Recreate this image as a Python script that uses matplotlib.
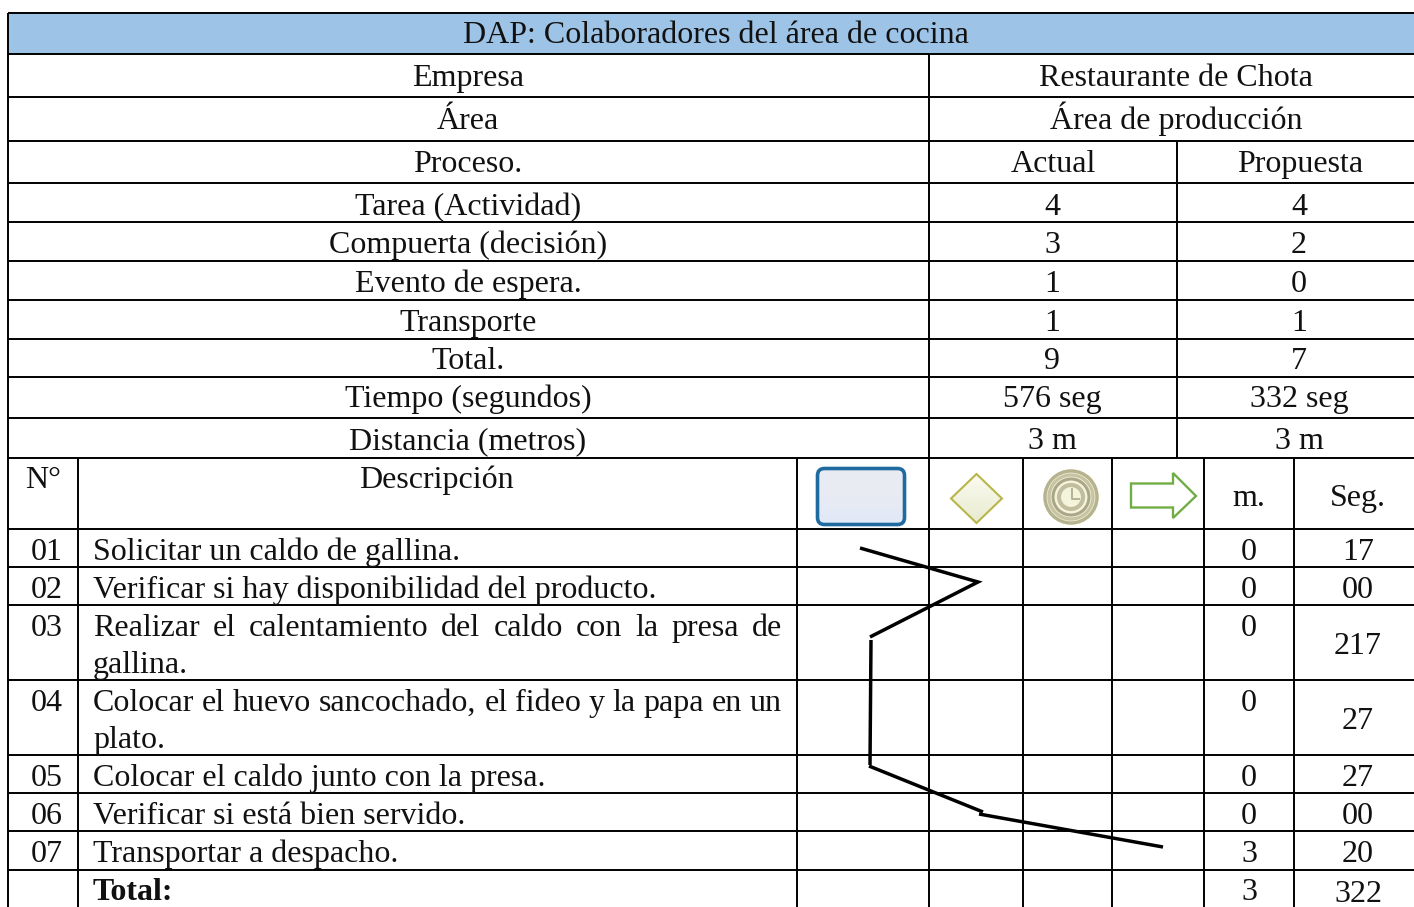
#!/usr/bin/env python3
"""DAP table, drawn in pixel coordinates of the 1414x907 picture."""

import numpy as np
import matplotlib
matplotlib.use("Agg")
import matplotlib.pyplot as plt
from matplotlib.colors import LinearSegmentedColormap
from matplotlib.patches import Circle, FancyBboxPatch, Polygon, Rectangle

plt.rcParams["font.family"] = ["Liberation Serif", "DejaVu Serif"]

# ---------- data ----------
title = "DAP: Colaboradores del área de cocina"
head_labels = ["Empresa", "Área", "Proceso."]
summary_labels = ["Tarea (Actividad)", "Compuerta (decisión)", "Evento de espera.", "Transporte",
                  "Total.", "Tiempo (segundos)", "Distancia (metros)"]
actual = ["4", "3", "1", "1", "9", "576 seg", "3 m"]
propuesta = ["4", "2", "0", "1", "7", "332 seg", "3 m"]

numbers = ["01", "02", "03", "04", "05", "06", "07"]
descriptions = [
    ["Solicitar un caldo de gallina."],
    ["Verificar si hay disponibilidad del producto."],
    ["Realizar el calentamiento del caldo con la presa de", "gallina."],
    ["Colocar el huevo sancochado, el fideo y la papa en un", "plato."],
    ["Colocar el caldo junto con la presa."],
    ["Verificar si está bien servido."],
    ["Transportar a despacho."],
]
minutes = ["0", "0", "0", "0", "0", "0", "3"]
seconds = ["17", "00", "217", "27", "27", "00", "20"]
total_min = "3"
total_sec = "322"

# hand drawn flow line, one list per stroke
flow_x = [[860, 978, 870], [871, 870], [869, 983], [979, 1163]]
flow_y = [[548, 582, 637], [640, 765], [766, 812], [814, 847]]

# ---------- grid ----------
X0, X_R = 8, 1416
H_LINES = [13, 54, 97, 141, 183, 222, 261, 300, 339, 377, 418, 458, 529, 567, 605, 680, 755, 793, 831, 870]
SUMMARY_BASE = [214, 252, 291, 330, 368, 406, 448]
ROW_BASE = [559, 597, 635, 710, 785, 823, 861]
FS = 23.0
LW = 1.4
TEXT_DY = 0.8

fig = plt.figure(figsize=(14.14, 9.07), dpi=100)
ax = fig.add_axes([0, 0, 1, 1])
ax.set_xlim(0, 1414)
ax.set_ylim(907, 0)
ax.axis("off")


def put(x, y, s, ha="center", **kw):
    return ax.text(x, y + TEXT_DY, s, ha=ha, va="baseline", fontsize=FS, color="#111111", **kw)


def hline(y, x1=X0, x2=X_R):
    ax.plot([x1, x2], [y, y], color="black", lw=LW, solid_capstyle="butt", zorder=3)


def vline(x, y1, y2):
    ax.plot([x, x], [y1, y2], color="black", lw=LW, solid_capstyle="butt", zorder=3)


def justified(x1, x2, y, line):
    # word by word so the line fills the cell, as in the document
    words = line.split()
    renderer = fig.canvas.get_renderer()
    items = [put(x1, y, w, ha="left") for w in words]
    widths = [t.get_window_extent(renderer).width for t in items]
    gap = (x2 - x1 - sum(widths)) / (len(words) - 1)
    pos = x1
    for t, w in zip(items, widths):
        t.set_x(pos)
        pos += w + gap


ax.add_patch(Rectangle((X0, 13), X_R - X0, 41, color="#9dc3e6", lw=0, zorder=0))
for y in H_LINES:
    hline(y)
vline(X0, 13, 907)
vline(929, 54, 458)
vline(1177, 141, 458)
for x in [78, 797, 929, 1023, 1112, 1204, 1294]:
    vline(x, 458, 907)

# ---------- upper block ----------
put(716, 42, title)
for base, s in zip([85, 128, 171], head_labels):
    put(468, base, s)
put(1176, 85, "Restaurante de Chota")
put(1176, 128, "Área de producción")
put(1053, 171, "Actual")
put(1300, 171, "Propuesta")
for base, s, a, p in zip(SUMMARY_BASE, summary_labels, actual, propuesta):
    put(468, base, s)
    put(1052, base, a)
    put(1299, base, p)

# ---------- lower block header ----------
put(43, 487, "N°")
put(436, 487, "Descripción")
put(1249, 505, "m.")
put(1358, 505, "Seg.")

# task symbol
grad = np.linspace(0, 1, 64)[:, None]
task = FancyBboxPatch((817.5, 468.5), 87, 56, boxstyle="round,pad=0,rounding_size=7",
                      fc="none", ec="#1f6a9f", lw=2.6, zorder=4)
ax.add_patch(task)
img = ax.imshow(grad, extent=(817, 906, 526, 467), aspect="auto", zorder=2,
                cmap=LinearSegmentedColormap.from_list("task", ["#e9ebf3", "#e9ebf3", "#dfe9f8"]))
img.set_clip_path(task)

# gateway symbol
gate = Polygon([(951, 498.5), (976.5, 474), (1002, 498.5), (976.5, 523)], closed=True,
               fc="none", ec="#b8b64a", lw=1.5, zorder=4)
ax.add_patch(gate)
img = ax.imshow(grad, extent=(951, 1002, 523, 474), aspect="auto", zorder=2,
                cmap=LinearSegmentedColormap.from_list("gate", ["#fbfbf0", "#e8ebd0"]))
img.set_clip_path(gate)

# timer event symbol
ax.add_patch(Circle((1071, 497), 28, fc="#f4f4dc", ec="none", zorder=2))
for r, c, w in [(26, "#b5b28f", 2.4), (22, "#c6c4a2", 2.4), (18, "#a9a787", 2.2), (12, "#c0be9e", 3.0)]:
    ax.add_patch(Circle((1071, 497), r, fc="none", ec=c, lw=w, zorder=4))
ax.plot([1072, 1072, 1079], [489, 499, 499], color="#b5b394", lw=1.4, zorder=4)

# transport arrow
ax.add_patch(Polygon([(1131, 483.5), (1173, 483.5), (1173, 473), (1196, 496), (1173, 518), (1173, 507.5), (1131, 507.5)],
                     closed=True, fc="white", ec="#70ad47", lw=1.7, zorder=4))

# ---------- lower block rows ----------
fig.canvas.draw()
for i, (base, num, desc, m) in enumerate(zip(ROW_BASE, numbers, descriptions, minutes)):
    put(47, base, num)
    put(1249, base, m)
    if len(desc) == 2:
        justified(93, 782, base, desc[0])
        put(93, base + 37, desc[1], ha="left")
        put(1358, base + 18, seconds[i])
    else:
        put(93, base, desc[0], ha="left")
        put(1358, base, seconds[i])

put(93, 899, "Total:", ha="left", fontweight="bold")
put(1249, 899, total_min)
put(1358, 901, total_sec)

for fx, fy in zip(flow_x, flow_y):
    ax.plot(fx, fy, color="black", lw=2.5, solid_capstyle="butt", solid_joinstyle="miter", zorder=5)

ax.set_xlim(0, 1414)
ax.set_ylim(907, 0)
fig.savefig("out.png", dpi=100, facecolor="white")
